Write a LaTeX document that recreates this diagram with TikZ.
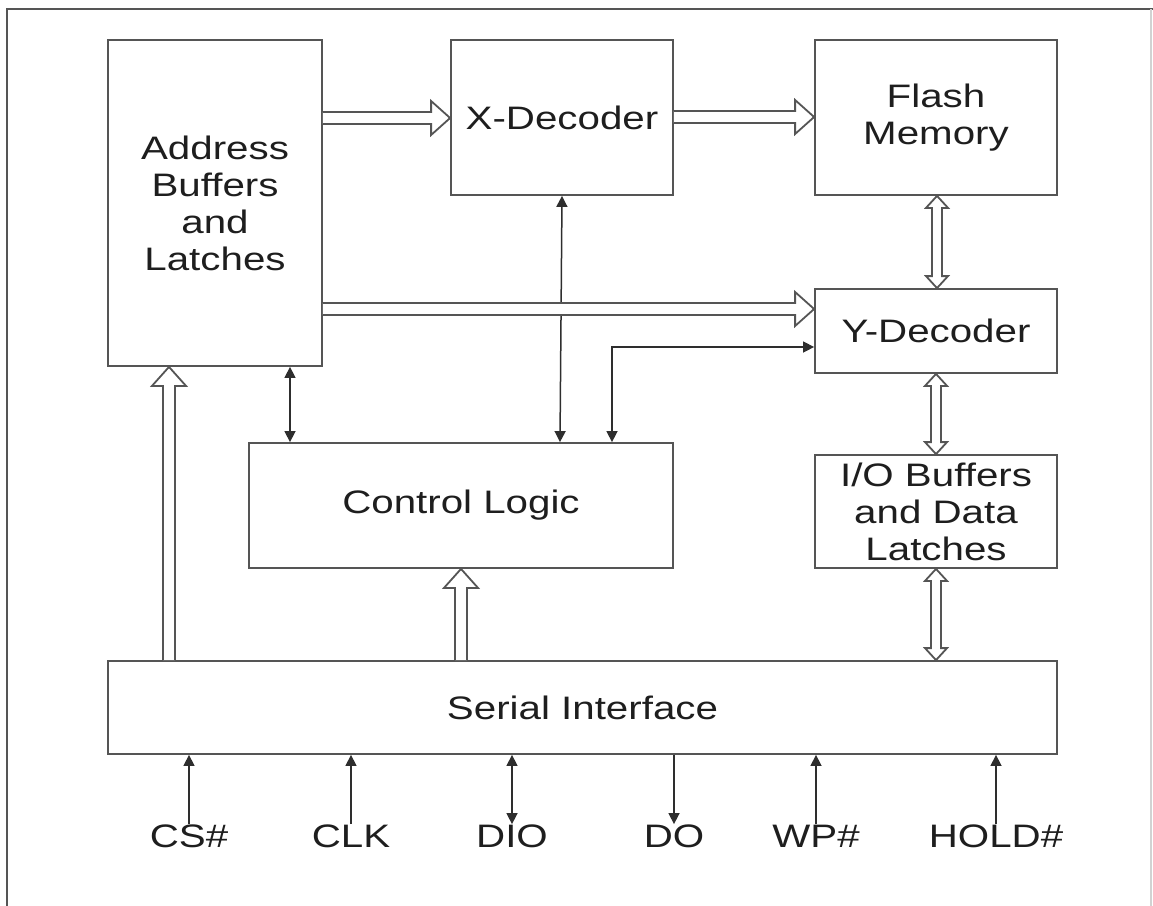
\documentclass[tikz,border=0pt]{standalone}
\usepackage{fontspec}
\setmainfont{Liberation Sans}[FakeStretch=1.24]
\usetikzlibrary{arrows.meta,calc}
\definecolor{boxline}{HTML}{555555}
\definecolor{wireline}{HTML}{2E2E2E}
\definecolor{txt}{HTML}{1E1E1E}
\newdimen\sSW \sSW=6pt
\newdimen\sHW \sHW=17pt
\newdimen\sHL \sHL=19pt
\newdimen\dSW \dSW=5pt
\newdimen\dHW \dHW=11pt
\newdimen\dHL \dHL=12pt
% hollow arrow to the right, from #1 to #2 (same y)
\newcommand\hollowRight[2]{\draw[hollow] let \p1=#1, \p2=#2 in
  (\x1,\y1+\sSW) -- (\x2-\sHL,\y1+\sSW) -- (\x2-\sHL,\y1+\sHW) -- (\x2,\y1)
  -- (\x2-\sHL,\y1-\sHW) -- (\x2-\sHL,\y1-\sSW) -- (\x1,\y1-\sSW);}
% hollow arrow upward, from #1 (lower) to #2 (upper)
\newcommand\hollowUp[2]{\draw[hollow] let \p1=#1, \p2=#2 in
  (\x1-\sSW,\y1) -- (\x1-\sSW,\y2-\sHL) -- (\x1-\sHW,\y2-\sHL) -- (\x1,\y2)
  -- (\x1+\sHW,\y2-\sHL) -- (\x1+\sSW,\y2-\sHL) -- (\x1+\sSW,\y1);}
% hollow double-headed vertical arrow, from #1 (upper) to #2 (lower)
\newcommand\hollowBoth[2]{\draw[hollow] let \p1=#1, \p2=#2 in
  (\x1,\y1) -- (\x1+\dHW,\y1-\dHL) -- (\x1+\dSW,\y1-\dHL) -- (\x1+\dSW,\y2+\dHL)
  -- (\x1+\dHW,\y2+\dHL) -- (\x1,\y2) -- (\x1-\dHW,\y2+\dHL) -- (\x1-\dSW,\y2+\dHL)
  -- (\x1-\dSW,\y1-\dHL) -- (\x1-\dHW,\y1-\dHL) -- cycle;}
\begin{document}
\begin{tikzpicture}[x=1pt,y=-1pt,
  box/.style={draw=boxline,line width=1.8pt,inner sep=0pt,align=center,
    text=txt,font=\fontsize{32.5}{37}\selectfont},
  lab/.style={inner sep=0pt,text=txt,font=\fontsize{32.5}{37}\selectfont},
  wire/.style={draw=wireline,line width=1.5pt,
    arrows={-{Triangle[length=11pt,width=11pt]}}},
  wire2/.style={draw=wireline,line width=1.5pt,
    arrows={{Triangle[length=11pt,width=11pt]}-{Triangle[length=11pt,width=11pt]}}},
  hollow/.style={draw=boxline,line width=1.8pt,fill=white,line join=miter}]
\useasboundingbox (0,0) rectangle (1153,905);
% outer frame
\draw[draw=boxline,line width=1.8pt] (7,910) -- (7,9) -- (1160,9);
\draw[draw=gray!35,line width=1.2pt] (1151,9) -- (1151,910);
% blocks
\node[box,minimum width=214pt,minimum height=326pt] (addr) at (215,203) {Address\\Buffers\\and\\Latches};
\node[box,minimum width=222pt,minimum height=155pt] (xdec) at (562,117.5) {X-Decoder};
\node[box,minimum width=242pt,minimum height=155pt] (flash) at (936,117.5) {Flash\\Memory};
\node[box,minimum width=242pt,minimum height=84pt] (ydec) at (936,331) {Y-Decoder};
\node[box,minimum width=424pt,minimum height=125pt] (ctrl) at (461,505.5) {Control Logic};
\node[box,minimum width=242pt,minimum height=113pt] (io) at (936,511.5) {I/O Buffers\\and Data\\Latches};
\node[box,minimum width=949pt,minimum height=93pt] (serial) at (582.5,707.5) {Serial Interface};
% pin labels
\node[lab,anchor=base] (cs) at (189,847) {CS\#};
\node[lab,anchor=base] (clk) at (351,847) {CLK};
\node[lab,anchor=base] (dio) at (512,847) {DIO};
\node[lab,anchor=base] (do) at (674,847) {DO};
\node[lab,anchor=base] (wp) at (816,847) {WP\#};
\node[lab,anchor=base] (hold) at (996,847) {HOLD\#};
% pin connectors
\draw[wire] (cs.north) -- (cs.north |- serial.south);
\draw[wire] (clk.north) -- (clk.north |- serial.south);
\draw[wire2] (dio.north) -- (dio.north |- serial.south);
\draw[wire] (do.north |- serial.south) -- (do.north);
\draw[wire] (wp.north) -- (wp.north |- serial.south);
\draw[wire] (hold.north) -- (hold.north |- serial.south);
% thin control connectors
\draw[wire2] (290,0 |- addr.south) -- (290,0 |- ctrl.north);
\draw[wire2] (562,0 |- xdec.south) -- (560,0 |- ctrl.north);
\draw[wire2] (612,0 |- ctrl.north) -- (612,347) -- (ydec.west |- 0,347);
% hollow bus arrows (drawn over the thin wires)
\hollowRight{(addr.east |- 0,118)}{(xdec.west |- 0,118)}
\hollowRight{(xdec.east |- 0,117)}{(flash.west |- 0,117)}
\hollowRight{(addr.east |- 0,309)}{(ydec.west |- 0,309)}
\hollowUp{(169,0 |- serial.north)}{(169,0 |- addr.south)}
\hollowUp{(461,0 |- serial.north)}{(461,0 |- ctrl.south)}
\hollowBoth{(937,0 |- flash.south)}{(937,0 |- ydec.north)}
\hollowBoth{(936,0 |- ydec.south)}{(936,0 |- io.north)}
\hollowBoth{(936,0 |- io.south)}{(936,0 |- serial.north)}
\end{tikzpicture}
\end{document}
